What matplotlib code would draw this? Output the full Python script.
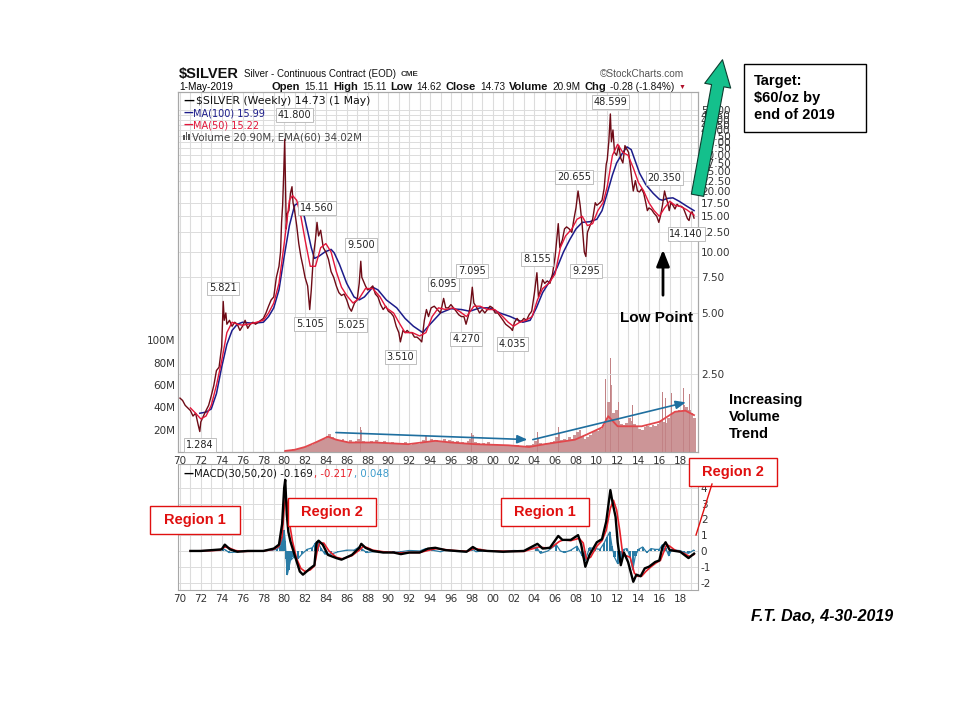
import matplotlib
matplotlib.use('Agg')
import matplotlib.pyplot as plt
from matplotlib.patches import Rectangle, FancyArrowPatch
from matplotlib.lines import Line2D
from matplotlib.ticker import NullLocator, MultipleLocator
import numpy as np

# ---------------- data ----------------
# weekly close (year, $/oz)
price_pts = [
    (1970.0, 1.90), (1970.25, 1.85), (1970.5, 1.75), (1970.75, 1.70), (1971.0, 1.65),
    (1971.25, 1.55), (1971.5, 1.60), (1971.75, 1.40), (1971.9, 1.30), (1972.0, 1.45),
    (1972.25, 1.55), (1972.5, 1.65), (1972.75, 1.75), (1973.0, 1.95), (1973.25, 2.20),
    (1973.5, 2.60), (1973.75, 2.70), (1974.0, 3.40), (1974.15, 5.70), (1974.25, 4.60),
    (1974.4, 5.00), (1974.5, 4.40), (1974.75, 4.60), (1975.0, 4.30), (1975.25, 4.50),
    (1975.5, 4.40), (1975.75, 4.10), (1976.0, 4.30), (1976.25, 4.60), (1976.5, 4.20),
    (1976.75, 4.40), (1977.0, 4.50), (1977.25, 4.40), (1977.5, 4.50), (1977.75, 4.60),
    (1978.0, 4.70), (1978.25, 5.00), (1978.5, 5.40), (1978.75, 5.80), (1979.0, 6.00),
    (1979.25, 7.50), (1979.5, 8.50), (1979.65, 10.0), (1979.75, 14.0), (1979.85, 17.0),
    (1979.95, 24.0), (1980.05, 36.0), (1980.12, 22.0), (1980.2, 13.0), (1980.3, 15.5),
    (1980.45, 16.0), (1980.6, 19.5), (1980.75, 21.0), (1980.85, 17.5), (1981.0, 16.0),
    (1981.2, 13.5), (1981.4, 11.0), (1981.6, 9.5), (1981.8, 8.5), (1982.0, 7.5),
    (1982.25, 6.8), (1982.45, 5.2), (1982.6, 6.5), (1982.8, 9.5), (1983.0, 11.5),
    (1983.15, 14.0), (1983.3, 12.0), (1983.5, 12.8), (1983.75, 10.5), (1984.0, 10.0),
    (1984.25, 9.2), (1984.5, 8.0), (1984.75, 7.5), (1985.0, 6.8), (1985.25, 6.3),
    (1985.5, 6.1), (1985.75, 6.2), (1986.0, 5.8), (1986.25, 5.3), (1986.45, 5.1),
    (1986.75, 5.6), (1987.0, 5.8), (1987.2, 7.0), (1987.35, 9.0), (1987.45, 7.5),
    (1987.6, 7.2), (1987.8, 6.8), (1988.0, 6.5), (1988.25, 6.6), (1988.5, 6.8),
    (1988.75, 6.2), (1989.0, 6.0), (1989.25, 5.5), (1989.5, 5.2), (1989.75, 5.4),
    (1990.0, 5.1), (1990.25, 5.0), (1990.5, 4.8), (1990.75, 4.3), (1991.0, 4.0),
    (1991.15, 3.6), (1991.4, 4.1), (1991.6, 4.0), (1991.8, 4.1), (1992.0, 4.0),
    (1992.25, 4.0), (1992.5, 3.8), (1992.75, 3.8), (1993.0, 3.7), (1993.2, 3.6),
    (1993.45, 4.6), (1993.65, 5.2), (1993.85, 4.8), (1994.1, 5.3), (1994.4, 5.4),
    (1994.7, 5.2), (1995.0, 5.0), (1995.3, 5.9), (1995.5, 5.3), (1995.75, 5.3),
    (1996.0, 5.5), (1996.25, 5.3), (1996.5, 5.1), (1996.75, 4.9), (1997.0, 4.8),
    (1997.25, 4.8), (1997.45, 4.4), (1997.7, 4.9), (1997.9, 5.6), (1998.05, 6.7),
    (1998.2, 5.6), (1998.5, 5.3), (1998.75, 5.0), (1999.0, 5.2), (1999.25, 5.0),
    (1999.5, 5.2), (1999.75, 5.4), (2000.0, 5.3), (2000.25, 5.0), (2000.5, 5.0),
    (2000.75, 4.8), (2001.0, 4.6), (2001.25, 4.4), (2001.5, 4.3), (2001.75, 4.2),
    (2001.9, 4.1), (2002.1, 4.5), (2002.35, 4.7), (2002.6, 4.5), (2002.85, 4.6),
    (2003.0, 4.7), (2003.25, 4.6), (2003.5, 4.9), (2003.75, 5.1), (2004.0, 6.2),
    (2004.25, 7.9), (2004.4, 6.0), (2004.6, 6.5), (2004.8, 7.3), (2005.0, 7.0),
    (2005.25, 7.2), (2005.5, 7.0), (2005.75, 7.8), (2006.0, 9.5), (2006.3, 13.8),
    (2006.45, 10.5), (2006.7, 11.5), (2006.9, 13.0), (2007.1, 13.3), (2007.35, 13.0),
    (2007.6, 12.5), (2007.8, 14.5), (2008.0, 16.5), (2008.2, 20.0), (2008.4, 17.0),
    (2008.6, 13.5), (2008.8, 10.0), (2008.95, 9.5), (2009.1, 12.5), (2009.35, 13.5),
    (2009.6, 14.5), (2009.85, 17.5), (2010.0, 17.0), (2010.3, 17.5), (2010.5, 18.0),
    (2010.7, 20.5), (2010.9, 27.0), (2011.0, 28.5), (2011.15, 35.0), (2011.3, 48.0),
    (2011.4, 35.0), (2011.55, 40.0), (2011.7, 31.0), (2011.9, 30.0), (2012.1, 33.5),
    (2012.3, 29.0), (2012.5, 27.5), (2012.7, 33.5), (2012.9, 32.0), (2013.05, 31.0),
    (2013.2, 27.0), (2013.35, 23.0), (2013.5, 20.0), (2013.7, 22.5), (2013.9, 20.0),
    (2014.1, 19.8), (2014.3, 20.5), (2014.5, 19.5), (2014.7, 17.5), (2014.85, 16.0),
    (2015.0, 16.5), (2015.25, 16.2), (2015.5, 15.5), (2015.75, 15.0), (2015.95, 14.0),
    (2016.1, 15.0), (2016.3, 17.0), (2016.5, 20.0), (2016.6, 19.0), (2016.8, 17.5),
    (2016.95, 16.0), (2017.1, 17.5), (2017.3, 17.0), (2017.5, 16.3), (2017.7, 17.2),
    (2017.9, 16.8), (2018.1, 16.8), (2018.3, 16.5), (2018.5, 15.5), (2018.7, 14.6),
    (2018.85, 14.3), (2019.0, 15.5), (2019.15, 15.8), (2019.33, 14.7),
]

ma100_pts = [
    (1971.9, 1.60), (1972.5, 1.62), (1973.0, 1.68), (1973.5, 2.0), (1974.0, 2.7),
    (1974.5, 3.5), (1975.0, 4.1), (1975.5, 4.4), (1976.0, 4.5), (1977.0, 4.45),
    (1978.0, 4.5), (1978.5, 4.8), (1979.0, 5.3), (1979.5, 6.5), (1980.0, 9.5),
    (1980.5, 13.5), (1981.0, 17.0), (1981.4, 17.5), (1981.8, 16.0), (1982.2, 13.0),
    (1982.6, 10.5), (1982.9, 9.3), (1983.3, 9.5), (1983.9, 10.0), (1984.5, 10.3),
    (1984.8, 9.9), (1985.3, 8.7), (1986.0, 7.0), (1986.7, 6.0), (1987.2, 5.8),
    (1987.7, 6.0), (1988.5, 6.7), (1989.0, 6.5), (1989.8, 5.8), (1990.8, 5.3),
    (1991.6, 4.7), (1992.4, 4.3), (1993.3, 4.0), (1994.0, 4.4), (1995.0, 5.0),
    (1996.0, 5.25), (1997.0, 5.2), (1997.8, 5.1), (1998.8, 5.3), (1999.7, 5.3),
    (2000.7, 5.0), (2001.7, 4.8), (2002.9, 4.5), (2003.6, 4.6), (2004.2, 5.3),
    (2004.8, 6.3), (2005.5, 7.2), (2006.2, 8.4), (2006.8, 10.0), (2007.4, 11.5),
    (2008.0, 13.0), (2008.6, 14.0), (2009.3, 14.1), (2010.0, 14.5), (2010.5, 16.0),
    (2011.0, 19.5), (2011.5, 24.0), (2011.9, 27.5), (2012.5, 31.0), (2012.9, 33.0),
    (2013.3, 32.0), (2013.7, 28.0), (2014.1, 24.5), (2014.7, 21.5), (2015.4, 19.5),
    (2016.0, 18.2), (2016.3, 18.0), (2016.8, 18.4), (2017.3, 18.5), (2017.9, 17.8),
    (2018.5, 17.0), (2019.33, 16.0),
]

ma50_pts = [
    (1971.0, 1.70), (1971.5, 1.60), (1972.0, 1.50), (1972.5, 1.55), (1973.0, 1.75),
    (1973.5, 2.2), (1974.0, 2.9), (1974.5, 4.0), (1975.0, 4.5), (1975.5, 4.4),
    (1976.0, 4.35), (1977.0, 4.45), (1978.0, 4.6), (1978.5, 5.0), (1979.0, 5.6),
    (1979.5, 7.0), (1980.0, 11.0), (1980.5, 18.0), (1980.8, 19.0), (1981.2, 18.0),
    (1981.6, 15.0), (1982.0, 11.5), (1982.5, 8.5), (1983.0, 8.5), (1983.5, 10.5),
    (1984.0, 11.0), (1984.5, 10.0), (1985.0, 8.0), (1985.5, 6.7), (1986.0, 6.1),
    (1986.6, 5.6), (1987.2, 5.9), (1987.8, 6.6), (1988.5, 6.6), (1989.2, 6.0),
    (1989.8, 5.3), (1990.5, 5.0), (1991.0, 4.5), (1991.6, 4.0), (1992.3, 4.0),
    (1993.0, 3.85), (1993.6, 4.0), (1994.2, 4.8), (1994.8, 5.3), (1995.5, 5.2),
    (1996.2, 5.3), (1996.8, 5.1), (1997.5, 4.8), (1998.2, 5.4), (1998.8, 5.4),
    (1999.5, 5.2), (2000.2, 5.2), (2000.8, 4.9), (2001.5, 4.5), (2002.0, 4.3),
    (2002.6, 4.5), (2003.2, 4.6), (2003.8, 4.8), (2004.3, 5.8), (2004.8, 6.6),
    (2005.4, 7.0), (2006.0, 7.8), (2006.5, 10.5), (2007.0, 12.0), (2007.6, 13.0),
    (2008.1, 14.5), (2008.6, 15.0), (2009.1, 13.5), (2009.6, 13.8), (2010.1, 16.0),
    (2010.6, 17.5), (2011.0, 21.0), (2011.5, 30.0), (2012.0, 34.0), (2012.5, 31.0),
    (2013.0, 30.0), (2013.5, 26.0), (2014.0, 22.0), (2014.5, 20.0), (2015.0, 17.5),
    (2015.5, 16.0), (2016.0, 15.0), (2016.5, 16.5), (2017.0, 17.8), (2017.5, 17.0),
    (2018.0, 16.8), (2018.6, 16.2), (2019.33, 15.2),
]

# high / low call-outs: (year, value, above?, sideways nudge in points)
callouts = [
    (1971.9, 1.284, False, 0), (1974.15, 5.821, True, 0), (1980.05, 41.800, True, 7),
    (1982.45, 5.105, False, 0), (1983.15, 14.560, True, 0), (1986.45, 5.025, False, 0),
    (1987.35, 9.500, True, 0), (1991.15, 3.510, False, 0), (1995.3, 6.095, True, 0),
    (1997.45, 4.270, False, 0), (1998.05, 7.095, True, 0), (2001.9, 4.035, False, 0),
    (2004.25, 8.155, True, 0), (2008.2, 20.655, True, -3), (2008.95, 9.295, False, 0),
    (2011.3, 48.599, True, 0), (2016.5, 20.350, True, 0), (2018.85, 14.140, False, -2),
]

# volume (millions), quarterly from 1980
vol_q = [
    1, 1.5, 2, 2.5, 3, 3, 3.5, 4, 4.5, 5, 6, 7, 9, 10, 11, 12,
    14, 16, 13, 12, 11, 10, 12, 10, 9, 11, 8, 10, 12, 20, 10, 9,
    8, 10, 9, 11, 9, 8, 10, 8, 7, 9, 8, 7, 8, 7, 9, 7,
    6, 7, 8, 7, 9, 11, 14, 10, 12, 10, 11, 9, 10, 12, 9, 11,
    10, 9, 10, 8, 9, 8, 10, 12, 15, 9, 8, 7, 8, 7, 9, 7,
    6, 7, 6, 6, 5, 6, 5, 6, 5, 6, 5, 5, 5, 6, 6, 7,
    10, 12, 8, 7, 8, 7, 9, 10, 13, 16, 11, 12, 11, 13, 12, 15,
    18, 20, 14, 12, 13, 15, 18, 20, 19, 21, 24, 30, 45, 60, 35, 38,
    28, 25, 24, 26, 30, 28, 25, 22, 21, 20, 22, 23, 22, 24, 23, 25,
    28, 27, 26, 30, 32, 35, 36, 38, 37, 42, 40, 38, 35, 30,
]
vol_spike_years = [1987.3, 1998.0, 2004.3, 2006.3, 2008.2, 2010.6, 2010.8, 2011.3, 2012.1,
                   2013.4, 2016.3, 2016.6, 2017.2, 2017.8, 2018.3, 2018.9]
vol_spikes = [22, 17, 18, 22, 30, 57, 65, 84, 45, 42, 54, 48, 53, 50, 57, 52]
vol_ema_pts = [
    (1980.1, 1), (1981.0, 2), (1982.0, 4.5), (1983.0, 8.5), (1984.2, 13.7), (1985.0, 11),
    (1986.2, 8.5), (1988.7, 8.5), (1991.9, 7), (1994.5, 10), (1996.0, 8.5), (1998.3, 7),
    (2001.5, 6), (2003.5, 4.5), (2005.0, 7), (2007.9, 11), (2009.0, 15.5), (2010.5, 22),
    (2011.1, 32), (2012.0, 23), (2014.3, 23), (2016.0, 27), (2017.5, 36), (2018.5, 37),
    (2019.33, 33),
]

# MACD(30,50,20)
macd_pts = [
    (1971.0, 0.0), (1972.0, 0.0), (1973.0, 0.05), (1974.0, 0.1), (1974.3, 0.4),
    (1974.8, 0.1), (1975.5, -0.05), (1976.5, 0.0), (1978.0, 0.0), (1979.0, 0.15),
    (1979.5, 0.4), (1979.8, 1.7), (1980.0, 4.0), (1980.1, 4.5), (1980.25, 2.3),
    (1980.4, 1.2), (1980.6, 0.6), (1981.0, -0.25), (1981.5, -1.3), (1981.8, -1.5),
    (1982.5, -1.1), (1982.9, -0.9), (1983.1, 0.5), (1983.3, 0.65), (1983.7, 0.4),
    (1984.2, -0.25), (1985.0, -0.45), (1985.5, -0.55), (1986.5, -0.25), (1987.2, 0.2),
    (1987.4, 0.45), (1987.8, 0.2), (1988.5, 0.0), (1989.5, -0.1), (1990.5, -0.1),
    (1991.2, -0.2), (1992.0, -0.1), (1993.0, -0.1), (1993.8, 0.15), (1994.5, 0.2),
    (1995.5, 0.05), (1996.5, 0.0), (1997.5, -0.05), (1998.1, 0.25), (1998.6, 0.05),
    (1999.5, 0.0), (2001.0, -0.05), (2003.0, 0.0), (2004.3, 0.45), (2004.8, 0.15),
    (2005.5, 0.2), (2006.3, 0.95), (2006.7, 0.7), (2007.5, 0.7), (2008.2, 1.0),
    (2008.5, 0.4), (2008.9, -1.0), (2009.3, -0.25), (2010.0, 0.55), (2010.5, 0.75),
    (2010.9, 1.85), (2011.3, 3.85), (2011.5, 3.1), (2011.8, 2.15), (2012.0, 0.55),
    (2012.3, -0.9), (2012.6, -0.1), (2013.0, -0.7), (2013.5, -1.95), (2013.8, -1.5),
    (2014.2, -1.6), (2014.6, -1.1), (2015.0, -1.0), (2015.6, -0.7), (2016.0, -0.6),
    (2016.3, 0.25), (2016.6, 0.55), (2017.0, 0.05), (2017.5, 0.0), (2018.0, -0.05),
    (2018.5, -0.3), (2018.8, -0.45), (2019.33, -0.17),
]
signal_pts = [
    (1971.0, 0.0), (1973.0, 0.02), (1973.8, 0.05), (1974.3, 0.25), (1974.7, 0.2),
    (1975.3, 0.03), (1976.0, -0.03), (1978.0, 0.0), (1979.0, 0.1), (1979.5, 0.3),
    (1979.8, 0.9), (1980.0, 2.7), (1980.15, 3.5), (1980.3, 3.0), (1980.5, 1.8),
    (1980.8, 0.6), (1981.2, -0.5), (1981.6, -1.1), (1982.0, -1.3), (1982.5, -1.2),
    (1982.9, -0.95), (1983.2, 0.1), (1983.4, 0.5), (1983.8, 0.5), (1984.3, 0.0),
    (1985.0, -0.4), (1985.6, -0.5), (1986.5, -0.3), (1987.2, 0.05), (1987.6, 0.3),
    (1988.0, 0.2), (1988.5, 0.05), (1989.5, -0.05), (1991.0, -0.12), (1992.0, -0.1),
    (1993.0, -0.1), (1993.9, 0.05), (1994.6, 0.15), (1995.5, 0.08), (1996.5, 0.02),
    (1997.6, -0.02), (1998.2, 0.15), (1998.8, 0.1), (1999.5, 0.0), (2003.0, -0.03),
    (2004.4, 0.25), (2005.0, 0.2), (2005.6, 0.2), (2006.4, 0.6), (2006.8, 0.7),
    (2007.5, 0.65), (2008.3, 0.8), (2008.7, 0.5), (2009.0, -0.5), (2009.4, -0.4),
    (2010.0, 0.3), (2010.5, 0.65), (2010.9, 1.3), (2011.3, 2.7), (2011.6, 3.2),
    (2011.9, 2.6), (2012.2, 1.3), (2012.5, -0.3), (2012.8, -0.3), (2013.2, -0.4),
    (2013.6, -1.4), (2013.9, -1.6), (2014.3, -1.6), (2014.7, -1.3), (2015.2, -1.0),
    (2015.7, -0.75), (2016.1, -0.6), (2016.4, -0.1), (2016.7, 0.4), (2017.0, 0.3),
    (2017.5, 0.05), (2018.0, -0.05), (2018.5, -0.2), (2018.9, -0.35), (2019.33, -0.22),
]
hist_pts = [
    (1971.0, 0.0), (1972.0, 0.02), (1973.0, 0.03), (1973.8, 0.05), (1974.1, 0.15),
    (1974.4, 0.05), (1974.7, -0.1), (1975.2, -0.08), (1976.0, 0.0), (1977.0, 0.0),
    (1978.0, 0.02), (1978.8, 0.05), (1979.3, 0.1), (1979.6, 0.3), (1979.85, 0.9),
    (1980.0, 1.3), (1980.1, 0.6), (1980.2, -0.5), (1980.3, -1.5), (1980.4, -1.2),
    (1980.6, -0.6), (1980.9, -0.4), (1981.3, -0.5), (1981.7, -0.2), (1982.2, 0.1),
    (1982.7, 0.2), (1983.0, 0.5), (1983.2, 0.6), (1983.5, 0.2), (1983.9, -0.2),
    (1984.5, -0.2), (1985.2, -0.05), (1986.0, 0.05), (1986.7, 0.05), (1987.2, 0.25),
    (1987.5, 0.1), (1987.9, -0.1), (1988.5, -0.05), (1989.5, -0.05), (1990.5, -0.1),
    (1991.2, -0.05), (1992.0, 0.03), (1993.0, 0.0), (1993.6, 0.15), (1994.2, 0.05),
    (1995.0, -0.05), (1995.5, 0.05), (1996.5, -0.03), (1997.5, -0.05), (1998.0, 0.15),
    (1998.4, -0.05), (1999.0, 0.0), (2000.0, -0.02), (2001.0, -0.05), (2002.0, 0.03),
    (2003.0, 0.0), (2004.2, 0.25), (2004.6, -0.15), (2005.3, 0.0), (2006.1, 0.4),
    (2006.5, 0.0), (2006.9, -0.1), (2007.5, 0.05), (2008.1, 0.3), (2008.6, -0.3),
    (2008.9, -0.6), (2009.3, 0.2), (2009.8, 0.15), (2010.3, 0.1), (2010.7, 0.5),
    (2011.0, 0.9), (2011.25, 1.2), (2011.45, 0.3), (2011.7, -0.4), (2012.0, -0.8),
    (2012.3, -0.6), (2012.6, 0.1), (2012.9, 0.15), (2013.2, -0.4), (2013.45, -1.2),
    (2013.7, -0.3), (2014.0, 0.1), (2014.4, 0.25), (2014.8, -0.1), (2015.2, 0.15),
    (2015.6, 0.1), (2016.0, 0.1), (2016.3, 0.4), (2016.6, 0.2), (2016.9, -0.3),
    (2017.2, 0.1), (2017.6, 0.05), (2018.0, 0.02), (2018.4, -0.1), (2018.8, -0.15),
    (2019.3, 0.05),
]

price_ticks = [2.5, 5, 7.5, 10, 12.5, 15, 17.5, 20, 22.5, 25, 27.5, 30, 32.5, 35,
               37.5, 40, 42.5, 45, 47.5, 50]
vol_ticks = [20, 40, 60, 80, 100]
macd_ticks = [-2, -1, 0, 1, 2, 3, 4]
year_ticks = list(range(1970, 2019, 2))
year_labels = ['%02d' % (y % 100) for y in year_ticks]

# ---------------- layout helpers (pixels of a 960x720 canvas) ----------------
W, H = 960, 720
def fx(p):
    return p / W
def fy(p):
    return 1 - p / H

plt.rcParams['font.family'] = ['DejaVu Sans']
GRID = '#dcdcdc'
FRAME = '#a8a8a8'
TXT = '#333333'
ARIAL = ['Liberation Sans', 'DejaVu Sans']

fig = plt.figure(figsize=(9.6, 7.2), dpi=100)
fig.patch.set_facecolor('white')
renderer = fig.canvas.get_renderer()

def text_run(x, y, pieces, gap=3, **common):
    # place text pieces one after another along a line (x, y in pixels)
    for s, kw in pieces:
        opts = dict(common)
        opts.update(kw)
        t = fig.text(fx(x), fy(y), s, va='center', **opts)
        x += t.get_window_extent(renderer=renderer).width + gap
    return x

L, R = 178, 698
ax = fig.add_axes([fx(L), fy(452), (R - L) / W, (452 - 92) / H])
axp = ax.twinx()
axm = fig.add_axes([fx(L), fy(590), (R - L) / W, (590 - 464) / H])

# ---------------- volume (left scale) ----------------
vq_years = 1980 + 0.25 * np.arange(len(vol_q))
ax.bar(vq_years, np.array(vol_q) * 1e6, width=0.25, align='edge', color='#cc9597', lw=0)
ax.bar(vol_spike_years, np.array(vol_spikes) * 1e6, width=0.07, color='#c28285', lw=0)
ey, ev = zip(*vol_ema_pts)
ax.plot(ey, np.array(ev) * 1e6, color='#e2474c', lw=1.3)
ax.set_ylim(0, 322e6)
ax.set_yticks([v * 1e6 for v in vol_ticks])
ax.set_yticklabels(['%dM' % v for v in vol_ticks])
ax.tick_params(axis='y', length=0, labelsize=7.5, pad=2, colors=TXT)

# volume trend arrows
ax.annotate('', xy=(2003.6, 11e6), xytext=(1984.7, 17.5e6),
            arrowprops=dict(arrowstyle='-|>,head_length=0.6,head_width=0.25',
                            color='#1f6f9f', lw=1.2))
ax.annotate('', xy=(2018.8, 45e6), xytext=(2003.6, 10.5e6),
            arrowprops=dict(arrowstyle='-|>,head_length=0.6,head_width=0.25',
                            color='#1f6f9f', lw=1.2))

# ---------------- price (right log scale) ----------------
py, pv = zip(*price_pts)
m1y, m1v = zip(*ma100_pts)
m5y, m5v = zip(*ma50_pts)
axp.plot(m1y, m1v, color='#1c1c8a', lw=1.1)
axp.plot(py, pv, color='#6e0b16', lw=1.0)
axp.plot(m5y, m5v, color='#e3163a', lw=1.0)
axp.set_yscale('log')
axp.set_ylim(1.03, 61.6)
axp.set_yticks(price_ticks)
axp.set_yticklabels(['%.2f' % t for t in price_ticks])
axp.yaxis.set_minor_locator(NullLocator())
axp.tick_params(axis='y', length=0, labelsize=7.5, pad=2, colors=TXT)
axp.grid(axis='y', color=GRID, lw=0.7)

for yr, val, up, dx in callouts:
    axp.annotate('%.3f' % val, (yr, val), xytext=(dx, 8 if up else -9),
                 textcoords='offset points', ha='center', va='center',
                 fontsize=7, color='#222222',
                 bbox=dict(boxstyle='square,pad=0.2', fc='white', ec='#b4b4b4', lw=0.6))

# ---------------- MACD panel ----------------
hy, hv = zip(*hist_pts)
sy, sv = zip(*signal_pts)
my, mv = zip(*macd_pts)
axm.bar(hy, hv, width=0.22, color='#2b7ca6', lw=0)
axm.plot(hy, hv, color='#2b7ca6', lw=0.9)
axm.plot(sy, sv, color='#e8202a', lw=1.2)
axm.plot(my, mv, color='black', lw=1.7)
axm.set_ylim(-2.47, 5.5)
axm.yaxis.tick_right()
axm.set_yticks(macd_ticks)
axm.set_yticklabels([str(t) for t in macd_ticks])
axm.tick_params(axis='y', length=0, labelsize=7.5, pad=2, colors=TXT)
axm.grid(axis='y', color=GRID, lw=0.7)

# ---------------- shared x styling ----------------
for a in (ax, axm):
    a.set_xlim(1969.81, 2019.71)
    a.set_xticks(year_ticks)
    a.set_xticklabels(year_labels)
    a.xaxis.set_minor_locator(MultipleLocator(1))
    a.grid(axis='x', which='both', color=GRID, lw=0.8)
    a.set_axisbelow(True)
    a.tick_params(axis='x', which='both', length=0, labelsize=7.5, pad=3, colors=TXT)
for a in (ax, axp, axm):
    for s in a.spines.values():
        s.set_color(FRAME)
        s.set_linewidth(0.8)

# ---------------- StockCharts header / legends ----------------
text_run(179, 74, [('$SILVER', dict(fontsize=10.5, fontweight='bold')),
                   ('Silver - Continuous Contract (EOD)', dict(fontsize=7)),
                   ('CME', dict(fontsize=5.8, fontweight='bold', color='#333333'))],
         gap=5, family=ARIAL, color='#111111')
fig.text(fx(684), fy(74), '\u00a9StockCharts.com', fontsize=7.3, family=ARIAL,
         va='center', ha='right', color='#555555')
fig.text(fx(179), fy(87), '1-May-2019', fontsize=7.2, family=ARIAL, va='center')
B = dict(fontsize=8, fontweight='bold')
N = dict(fontsize=7.2)
text_run(272, 87, [('Open', B), ('15.11', N), ('High', B), ('15.11', N), ('Low', B),
                   ('14.62', N), ('Close', B), ('14.73', N), ('Volume', B), ('20.9M', N),
                   ('Chg', B), ('-0.28 (-1.84%)', N),
                   ('\u25bc', dict(fontsize=5, color='#b0102a'))],
         gap=4, family=ARIAL, color='#111111')

LEG = 7.8
MAL = 7.0
text_run(183, 101, [('\u2014', dict(fontsize=LEG, fontweight='bold', color='black')),
                    ('$SILVER (Weekly) 14.73 (1 May)', dict(fontsize=LEG, color='#111111'))], gap=2)
text_run(183, 113, [('\u2014', dict(fontsize=MAL, fontweight='bold', color='#1c1c8a')),
                    ('MA(100) 15.99', dict(fontsize=MAL, color='#1c1c8a'))], gap=0)
text_run(183, 125, [('\u2014', dict(fontsize=MAL, fontweight='bold', color='#e3163a')),
                    ('MA(50) 15.22', dict(fontsize=MAL, color='#e3163a'))], gap=0)
for i, hgt in enumerate([5, 8, 6]):
    fig.add_artist(Rectangle((fx(183 + 2.5 * i), fy(140)), 1.6 / W, hgt / H,
                             color='#555555', lw=0))
fig.text(fx(192), fy(137), 'Volume 20.90M, EMA(60) 34.02M', fontsize=7.4, va='center',
         color='#444444')

text_run(183, 474, [('\u2014', dict(fontsize=7.3, fontweight='bold', color='black')),
                    ('MACD(30,50,20) -0.169', dict(fontsize=7.3, color='#111111')),
                    (', -0.217', dict(fontsize=7.3, color='#e8202a')),
                    (', 0.048', dict(fontsize=7.3, color='#3d9ccc'))], gap=1)

# ---------------- author annotations ----------------
fig.add_artist(FancyArrowPatch((fx(697), fy(198)), (fx(723), fy(57)),
                               transform=fig.transFigure,
                               arrowstyle='simple,head_length=1.9,head_width=1.9,tail_width=0.9',
                               mutation_scale=10, fc='#14c08c', ec='#0d3d2f', lw=0.8))

fig.add_artist(Rectangle((fx(744), fy(132)), 122 / W, 68 / H, transform=fig.transFigure,
                         fc='white', ec='black', lw=1))
fig.text(fx(754), fy(98), 'Target:\n$60/oz by\nend of 2019', fontsize=10.5, fontweight='bold',
         family=ARIAL, va='center', ha='left', linespacing=1.25)

fig.add_artist(FancyArrowPatch((fx(663), fy(298)), (fx(663), fy(247)),
                               transform=fig.transFigure,
                               arrowstyle='-|>,head_length=0.7,head_width=0.28',
                               mutation_scale=14, color='black', lw=2))
fig.text(fx(656), fy(318), 'Low Point', fontsize=11, fontweight='bold', family=ARIAL,
         va='center', ha='center')

fig.text(fx(729), fy(417), 'Increasing\nVolume\nTrend', fontsize=10.5, fontweight='bold',
         family=ARIAL, va='center', ha='left', linespacing=1.3)

regions = [(150, 506, 90, 28, 'Region 1'), (288, 498, 88, 28, 'Region 2'),
           (501, 498, 88, 28, 'Region 1'), (689, 458, 88, 28, 'Region 2')]
for x0, y0, w, h, s in regions:
    fig.add_artist(Rectangle((fx(x0), fy(y0 + h)), w / W, h / H, transform=fig.transFigure,
                             fc='white', ec='#e01010', lw=1))
    fig.text(fx(x0 + w / 2), fy(y0 + h / 2), s, fontsize=10.5, fontweight='bold',
             family=ARIAL, color='#e01010', ha='center', va='center')
fig.add_artist(Line2D([fx(712), fx(696)], [fy(484), fy(535)], color='#e01010', lw=1))

fig.text(fx(822), fy(616), 'F.T. Dao, 4-30-2019', fontsize=11.5, fontweight='bold',
         fontstyle='italic', family=ARIAL, ha='center', va='center')

fig.savefig('out.png', dpi=100, facecolor='white')
